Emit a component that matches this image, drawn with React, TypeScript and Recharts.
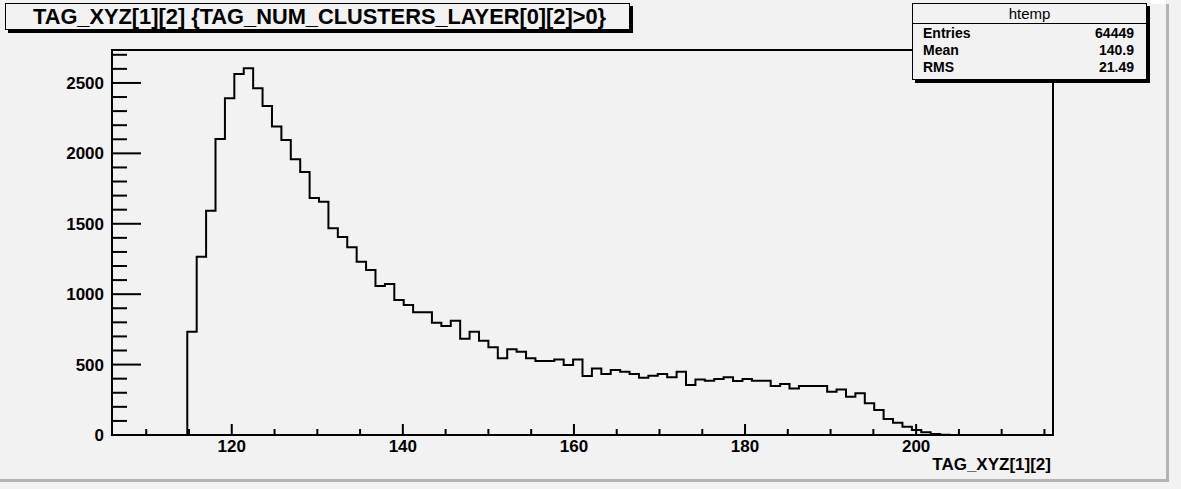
import { LineChart, Line, XAxis, YAxis, ReferenceArea } from 'recharts';

// histogram htemp: 100 bins from 106 to 216
const xMin = 106;
const xMax = 216;
const binWidth = 1.1;
const counts = [
  0, 0, 0, 0, 0, 0, 0, 0, 733, 1266,
  1593, 2102, 2391, 2564, 2604, 2462, 2336, 2190, 2095, 1958,
  1868, 1683, 1657, 1468, 1406, 1333, 1231, 1172, 1058, 1072,
  959, 923, 871, 871, 797, 774, 812, 684, 734, 670,
  623, 545, 609, 592, 545, 525, 525, 537, 497, 537,
  419, 473, 433, 461, 450, 433, 407, 421, 433, 410,
  450, 355, 395, 386, 398, 410, 383, 398, 386, 386,
  348, 362, 331, 348, 348, 348, 308, 324, 272, 296,
  225, 178, 114, 87, 59, 36, 19, 7, 2, 0,
  0, 0, 0, 0, 0, 0, 0, 0, 0, 0,
];
const yMax = 2734;

const xTicks = [110, 115, 120, 125, 130, 135, 140, 145, 150, 155, 160, 165, 170, 175, 180, 185, 190, 195, 200, 205, 210, 215];
const xLabels = [120, 140, 160, 180, 200];
const yTicks = [0, 100, 200, 300, 400, 500, 600, 700, 800, 900, 1000, 1100, 1200, 1300, 1400, 1500, 1600, 1700, 1800, 1900, 2000, 2100, 2200, 2300, 2400, 2500, 2600, 2700];
const yLabels = [0, 500, 1000, 1500, 2000, 2500];

const title = 'TAG_XYZ[1][2] {TAG_NUM_CLUSTERS_LAYER[0][2]>0}';
const xTitle = 'TAG_XYZ[1][2]';
const statsName = 'htemp';
const statLabels = ['Entries', 'Mean', 'RMS'];
const statValues = ['64449', '140.9', '21.49'];

const histData = counts.map((c, i) => ({ x: xMin + i * binWidth, count: c }));
histData.push({ x: xMax, count: 0 });

const font = '"Liberation Sans", Arial, Helvetica, sans-serif';
const bg = '#f2f2f2';

function XTick(props: any) {
  const { x, y, payload } = props;
  const major = xLabels.includes(payload.value);
  return (
    <g>
      <line x1={x} x2={x} y1={y} y2={y - (major ? 11 : 6)} stroke="#000" strokeWidth={2} />
      {major && (
        <text x={x} y={y + 17} textAnchor="middle" fontFamily={font} fontWeight="bold" fontSize={17} fill="#000">
          {payload.value}
        </text>
      )}
    </g>
  );
}

function YTick(props: any) {
  const { x, y, payload } = props;
  const major = yLabels.includes(payload.value);
  return (
    <g>
      <line x1={x} x2={x + (major ? 29 : 15)} y1={y} y2={y} stroke="#000" strokeWidth={2} />
      {major && (
        <text x={x - 8} y={y + 6} textAnchor="end" fontFamily={font} fontWeight="bold" fontSize={17} fill="#000">
          {payload.value}
        </text>
      )}
    </g>
  );
}

export default function App() {
  return (
    <div style={{ position: 'absolute', left: 0, top: 0, width: 1181, height: 489, background: bg, overflow: 'hidden', fontFamily: font }}>
      <LineChart width={1181} height={489} data={histData} margin={{ top: 50, right: 128, bottom: 0, left: 0 }}>
        <XAxis
          dataKey="x"
          type="number"
          domain={[xMin, xMax]}
          allowDataOverflow
          ticks={xTicks}
          interval={0}
          axisLine={false}
          tickLine={false}
          tickSize={0}
          tickMargin={0}
          height={54}
          tick={<XTick />}
        />
        <YAxis
          type="number"
          domain={[0, yMax]}
          allowDataOverflow
          ticks={yTicks}
          interval={0}
          axisLine={false}
          tickLine={false}
          tickSize={0}
          tickMargin={0}
          width={112}
          tick={<YTick />}
        />
        <ReferenceArea x1={xMin} x2={xMax} y1={0} y2={yMax} fill="none" stroke="#000" strokeWidth={2} ifOverflow="visible" />
        <Line
          type="stepAfter"
          dataKey="count"
          stroke="#000"
          strokeWidth={2}
          dot={false}
          activeDot={false}
          isAnimationActive={false}
        />
      </LineChart>

      {/* x axis title */}
      <div style={{ position: 'absolute', right: 1181 - 1051, top: 455, fontSize: 17, fontWeight: 'bold', color: '#000', whiteSpace: 'nowrap', lineHeight: '20px' }}>
        {xTitle}
      </div>

      {/* title pave */}
      <div
        style={{
          position: 'absolute', left: 5, top: 3, width: 625, height: 27, boxSizing: 'border-box',
          border: '1px solid #000', boxShadow: '3px 3px 0 #000', background: bg,
          fontSize: 21.8, fontWeight: 'bold', textAlign: 'center', lineHeight: '25px', whiteSpace: 'nowrap', color: '#000',
          paddingLeft: 4,
        }}
      >
        {title}
      </div>

      {/* stats box */}
      <div
        style={{
          position: 'absolute', left: 912, top: 3, width: 235, height: 77, boxSizing: 'border-box',
          border: '1.5px solid #000', boxShadow: '3px 3px 0 #000', background: bg, color: '#000',
        }}
      >
        <div style={{ height: 19, borderBottom: '1.5px solid #000', textAlign: 'center', fontSize: 15, lineHeight: '19px' }}>
          {statsName}
        </div>
        <div style={{ paddingTop: 1 }}>
          {statLabels.map((l, i) => (
            <div key={l} style={{ display: 'flex', justifyContent: 'space-between', padding: '0 12px 0 10px', fontSize: 14, fontWeight: 'bold', lineHeight: '17px', height: 17 }}>
              <span>{l}</span>
              <span>{statValues[i]}</span>
            </div>
          ))}
        </div>
      </div>

      {/* canvas bevel */}
      <div style={{ position: 'absolute', left: 1166, top: 4, width: 3, height: 478, background: '#b4b4b4' }} />
      <div style={{ position: 'absolute', left: 0, top: 479, width: 1169, height: 3, background: '#b4b4b4' }} />
      <div style={{ position: 'absolute', left: 1150, top: 0, width: 16, height: 4, background: '#fff' }} />
    </div>
  );
}
